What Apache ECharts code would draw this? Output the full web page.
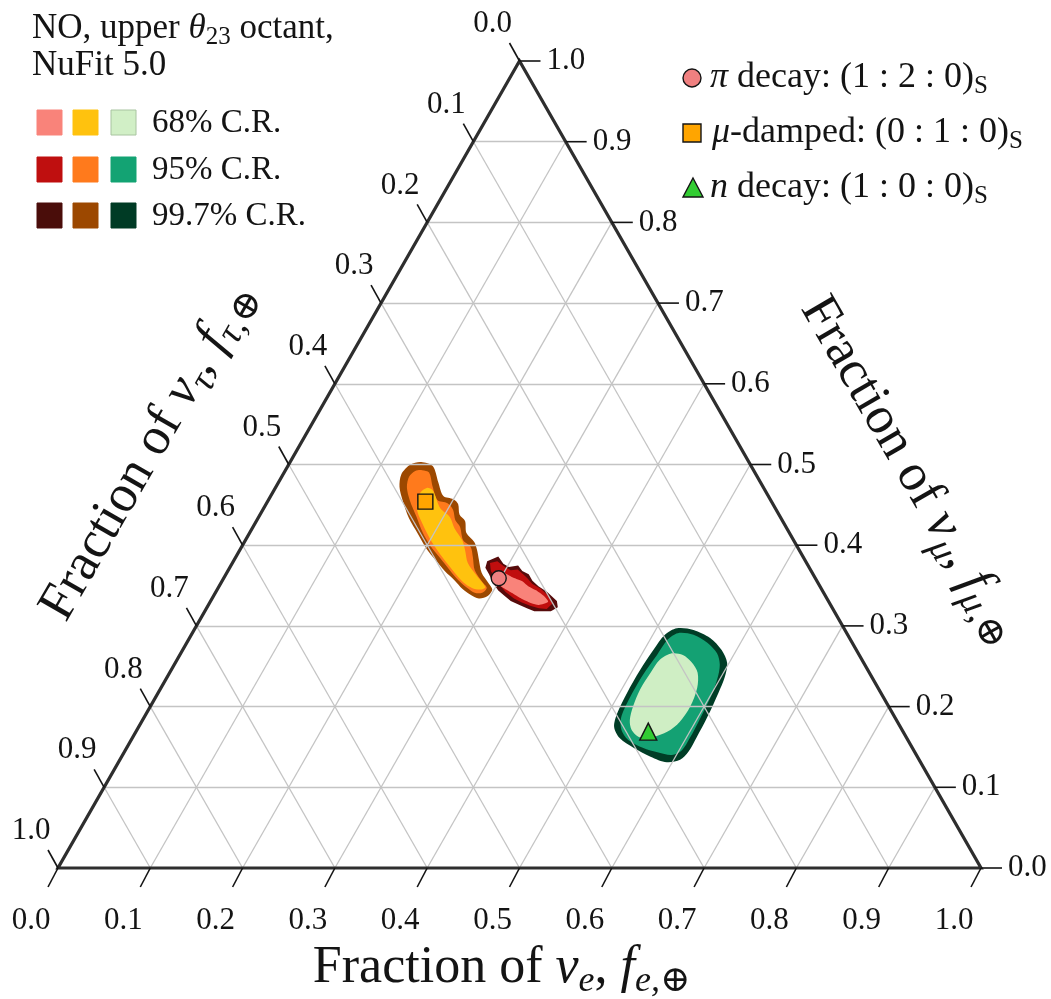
<!DOCTYPE html>
<html>
<head>
<meta charset="utf-8">
<script src="https://cdn.jsdelivr.net/npm/echarts@6/dist/echarts.min.js"></script>
<style>html,body{margin:0;padding:0;background:#fff}#chart{width:1051px;height:999px}</style>
</head>
<body>
<div id="chart"></div>
<script>
// ---------- data ----------
const tickValues = [0, 0.1, 0.2, 0.3, 0.4, 0.5, 0.6, 0.7, 0.8, 0.9, 1.0];
const tickLabels = ['0.0','0.1','0.2','0.3','0.4','0.5','0.6','0.7','0.8','0.9','1.0'];
const gridFractions = [0.1, 0.2, 0.3, 0.4, 0.5, 0.6, 0.7, 0.8, 0.9];

// credible regions of the flavor composition at Earth; each point is [f_e, f_mu] (f_tau = 1 - f_e - f_mu)
const piDecay997 = [[0.275,0.380],[0.284,0.386],[0.294,0.377],[0.302,0.373],[0.311,0.375],[0.319,0.368],[0.328,0.364],[0.336,0.356],[0.346,0.349],[0.359,0.342],[0.375,0.331],[0.380,0.323],[0.375,0.318],[0.364,0.318],[0.357,0.318],[0.347,0.322],[0.337,0.326],[0.325,0.331],[0.314,0.338],[0.305,0.344],[0.295,0.353],[0.285,0.364],[0.277,0.372]];
const piDecay95 = [[0.279,0.378],[0.286,0.380],[0.296,0.374],[0.306,0.369],[0.313,0.370],[0.322,0.364],[0.329,0.359],[0.338,0.352],[0.350,0.346],[0.363,0.337],[0.372,0.328],[0.369,0.321],[0.360,0.322],[0.349,0.325],[0.338,0.329],[0.327,0.334],[0.314,0.342],[0.304,0.350],[0.294,0.359],[0.285,0.368]];
const piDecay68 = [[0.293,0.367],[0.302,0.365],[0.313,0.360],[0.326,0.355],[0.335,0.349],[0.348,0.343],[0.358,0.337],[0.366,0.330],[0.358,0.326],[0.349,0.328],[0.337,0.333],[0.325,0.339],[0.313,0.345],[0.302,0.351],[0.294,0.358]];

const muDamped997 = [[0.142,0.503],[0.157,0.498],[0.173,0.478],[0.187,0.461],[0.200,0.457],[0.208,0.451],[0.216,0.438],[0.226,0.430],[0.235,0.415],[0.249,0.404],[0.257,0.394],[0.265,0.382],[0.276,0.366],[0.290,0.353],[0.298,0.345],[0.297,0.337],[0.289,0.334],[0.277,0.339],[0.265,0.346],[0.252,0.356],[0.235,0.368],[0.219,0.381],[0.201,0.396],[0.183,0.414],[0.163,0.434],[0.146,0.455],[0.134,0.472],[0.128,0.488],[0.132,0.500]];
const muDamped95 = [[0.148,0.493],[0.157,0.490],[0.170,0.472],[0.183,0.456],[0.196,0.452],[0.206,0.444],[0.215,0.431],[0.224,0.423],[0.236,0.406],[0.248,0.398],[0.257,0.385],[0.267,0.369],[0.283,0.354],[0.291,0.347],[0.289,0.341],[0.281,0.341],[0.270,0.347],[0.255,0.357],[0.240,0.369],[0.222,0.384],[0.203,0.400],[0.187,0.416],[0.171,0.435],[0.153,0.456],[0.142,0.472],[0.138,0.485],[0.141,0.492]];
const muDamped68 = [[0.172,0.468],[0.191,0.446],[0.207,0.435],[0.219,0.421],[0.235,0.406],[0.244,0.394],[0.255,0.378],[0.274,0.361],[0.289,0.348],[0.285,0.345],[0.275,0.347],[0.262,0.354],[0.243,0.369],[0.224,0.385],[0.203,0.404],[0.183,0.425],[0.169,0.441],[0.163,0.452],[0.160,0.465],[0.164,0.471]];

const nDecay997 = [[0.522,0.297],[0.541,0.295],[0.564,0.285],[0.584,0.270],[0.598,0.254],[0.604,0.237],[0.607,0.217],[0.610,0.187],[0.611,0.162],[0.611,0.144],[0.607,0.134],[0.594,0.131],[0.573,0.138],[0.549,0.149],[0.528,0.161],[0.515,0.175],[0.510,0.192],[0.508,0.217],[0.508,0.245],[0.510,0.270],[0.513,0.289]];
const nDecay95 = [[0.526,0.291],[0.544,0.289],[0.564,0.279],[0.581,0.266],[0.591,0.252],[0.597,0.235],[0.601,0.214],[0.603,0.186],[0.604,0.161],[0.603,0.146],[0.595,0.140],[0.579,0.143],[0.559,0.149],[0.538,0.159],[0.525,0.171],[0.517,0.186],[0.514,0.211],[0.514,0.239],[0.517,0.264],[0.519,0.283]];
const nDecay68 = [[0.532,0.266],[0.545,0.264],[0.559,0.255],[0.572,0.242],[0.581,0.223],[0.585,0.200],[0.583,0.181],[0.576,0.169],[0.563,0.162],[0.549,0.162],[0.536,0.171],[0.528,0.183],[0.523,0.200],[0.520,0.221],[0.521,0.242],[0.523,0.258]];

// best-fit flavor ratios at Earth for each source scenario, [f_e, f_mu]
const piDecayPoint = [0.298, 0.359];
const muDampedPoint = [0.171, 0.454];
const nDecayPoint = [0.555, 0.169];

// ---------- helpers ----------
const SERIF = '"Liberation Serif", "DejaVu Serif", serif';
const INK = '#141414';
// ternary (f_e, f_mu) -> cartesian axis values
const toXY = p => [p[0] + p[1] / 2, p[1]];

function regionSeries(name, pts, color, smooth, z) {
  return {
    type: 'custom', name: name, coordinateSystem: 'cartesian2d', silent: true, z: z,
    data: [[0, 0]],
    renderItem: function (params, api) {
      return { type: 'polygon', shape: { points: pts.map(p => api.coord(toXY(p))), smooth: smooth },
               style: { fill: color } };
    }
  };
}

const gridLineData = [];
gridFractions.forEach(t => {
  gridLineData.push({ coords: [toXY([t, 0]), toXY([t, 1 - t])] });       // constant f_e
  gridLineData.push({ coords: [toXY([0, t]), toXY([1 - t, t])] });       // constant f_mu
  gridLineData.push({ coords: [toXY([0, 1 - t]), toXY([1 - t, 0])] });   // constant f_tau
});

const tickFont = { fontFamily: SERIF, fontSize: 31, fill: INK };

function tickSeries(kind) {
  return {
    type: 'custom', coordinateSystem: 'cartesian2d', silent: true, z: 20,
    data: tickValues.map(v => [v]),
    renderItem: function (params, api) {
      const v = api.value(0);
      const label = tickLabels[params.dataIndex];
      let b, dx, dy, tx, ty, align;
      if (kind === 'e') { b = api.coord(toXY([v, 0])); dx = -10; dy = 19; tx = -27; ty = 53; align = 'center'; }
      else if (kind === 'mu') { b = api.coord(toXY([1 - v, v])); dx = 21; dy = 0; tx = 27; ty = 0; align = 'left'; }
      else { b = api.coord(toXY([0, 1 - v])); dx = -10; dy = -18; tx = -27; ty = -37; align = 'center'; }
      return { type: 'group', children: [
        { type: 'line', shape: { x1: b[0], y1: b[1], x2: b[0] + dx, y2: b[1] + dy }, style: { stroke: INK, lineWidth: 1.6 } },
        { type: 'text', x: b[0] + tx, y: b[1] + ty,
          style: Object.assign({ text: label, align: align, verticalAlign: 'middle' }, tickFont) }
      ]};
    }
  };
}

function titleRich(big, sub) {
  return {
    r: { fontFamily: SERIF, fontSize: big, lineHeight: 64, fill: INK },
    i: { fontFamily: SERIF, fontStyle: 'italic', fontSize: big, lineHeight: 64, fill: INK },
    s: { fontFamily: SERIF, fontStyle: 'italic', fontSize: sub, lineHeight: 34, verticalAlign: 'bottom', fill: INK },
    u: { fontFamily: SERIF, fontSize: sub, lineHeight: 34, verticalAlign: 'bottom', fill: INK }
  };
}

function titleSeries(text, anchor, off, rotation, big, sub) {
  return {
    type: 'custom', coordinateSystem: 'cartesian2d', silent: true, z: 20,
    data: [[0]],
    renderItem: function (params, api) {
      const b = api.coord(toXY(anchor));
      return { type: 'text', x: b[0] + off[0], y: b[1] + off[1], rotation: rotation,
        style: { text: text, rich: titleRich(big, sub), align: 'center', verticalAlign: 'middle' } };
    }
  };
}

function pointSeries(name, pt, symbol, color, size) {
  return {
    type: 'scatter', name: name, silent: true, z: 30,
    symbol: symbol, symbolSize: size,
    itemStyle: { color: color, borderColor: INK, borderWidth: 1.4, opacity: 1 },
    data: [toXY(pt)]
  };
}

// ---------- legends (decoration) ----------
function legRich(size) {
  return {
    r: { fontFamily: SERIF, fontSize: size, lineHeight: 42, fill: INK },
    i: { fontFamily: SERIF, fontStyle: 'italic', fontSize: size, lineHeight: 42, fill: INK },
    s: { fontFamily: SERIF, fontSize: Math.round(size * 0.7), lineHeight: 24, verticalAlign: 'bottom', fill: INK }
  };
}
const crColors = [
  ['#F9837A', '#FFC20E', '#D1EFC6', '68% C.R.'],
  ['#BF0F0F', '#FF7A1C', '#13A373', '95% C.R.'],
  ['#4A0D0A', '#9C4800', '#003B25', '99.7% C.R.']
];
const graphics = [
  { type: 'text', x: 32, y: 29, style: { text: '{r|NO, upper }{i|θ}{s|23}{r| octant,}', rich: legRich(35), verticalAlign: 'middle' } },
  { type: 'text', x: 32, y: 66, style: { text: 'NuFit 5.0', fontFamily: SERIF, fontSize: 35, fill: INK, verticalAlign: 'middle' } }
];
const rowTops = [110, 157, 203];
const colLefts = [37, 73, 111];
crColors.forEach((row, r) => {
  for (let c = 0; c < 3; c++) {
    graphics.push({ type: 'rect', x: colLefts[c], y: rowTops[r],
      shape: { width: 25, height: 25 },
      style: { fill: row[c], stroke: c === 2 && r === 0 ? '#A8C4A0' : row[c], lineWidth: 1 } });
  }
  graphics.push({ type: 'text', x: 152, y: rowTops[r] + 13,
    style: { text: row[3], fontFamily: SERIF, fontSize: 33, fill: INK, verticalAlign: 'middle' } });
});
graphics.push(
  { type: 'circle', shape: { cx: 692, cy: 78, r: 9 }, style: { fill: '#F08080', stroke: INK, lineWidth: 1.4 } },
  { type: 'rect', shape: { x: 683, y: 124, width: 18, height: 18 }, style: { fill: '#FFA500', stroke: INK, lineWidth: 1.4 } },
  { type: 'polygon', shape: { points: [[693, 178], [703, 197], [683, 197]] }, style: { fill: '#32CD32', stroke: INK, lineWidth: 1.4 } },
  { type: 'text', x: 710, y: 78, style: { text: '{i|π}{r| decay: (1 : 2 : 0)}{s|S}', rich: legRich(36), verticalAlign: 'middle' } },
  { type: 'text', x: 712, y: 133, style: { text: '{i|μ}{r|-damped: (0 : 1 : 0)}{s|S}', rich: legRich(36), verticalAlign: 'middle' } },
  { type: 'text', x: 710, y: 188, style: { text: '{i|n}{r| decay: (1 : 0 : 0)}{s|S}', rich: legRich(36), verticalAlign: 'middle' } }
);

// ---------- chart ----------
const chart = echarts.init(document.getElementById('chart'), null, { renderer: 'canvas' });
chart.setOption({
  animation: false,
  backgroundColor: '#ffffff',
  grid: { left: 58, right: 70, top: 61, bottom: 131 },
  xAxis: { type: 'value', min: 0, max: 1, show: false },
  yAxis: { type: 'value', min: 0, max: 1, show: false },
  graphic: graphics,
  series: [
    regionSeries('μ-damped 99.7% C.R.', muDamped997, '#9C4800', 0.3, 2),
    regionSeries('μ-damped 95% C.R.', muDamped95, '#FF7A1C', 0.3, 2),
    regionSeries('μ-damped 68% C.R.', muDamped68, '#FFC20E', 0.3, 2),
    regionSeries('π decay 99.7% C.R.', piDecay997, '#560B0B', 0, 2),
    regionSeries('π decay 95% C.R.', piDecay95, '#C00E0E', 0, 2),
    regionSeries('π decay 68% C.R.', piDecay68, '#F9837A', 0.2, 2),
    regionSeries('n decay 99.7% C.R.', nDecay997, '#003D26', 0.3, 2),
    regionSeries('n decay 95% C.R.', nDecay95, '#14A173', 0.3, 2),
    regionSeries('n decay 68% C.R.', nDecay68, '#CFEEC4', 0.3, 2),
    {
      type: 'lines', coordinateSystem: 'cartesian2d', silent: true, z: 5,
      lineStyle: { color: '#c4c4c4', width: 1.3, opacity: 1 },
      data: gridLineData
    },
    {
      type: 'custom', coordinateSystem: 'cartesian2d', silent: true, z: 10, data: [[0]],
      renderItem: function (params, api) {
        return { type: 'polygon',
          shape: { points: [[0, 0], [1, 0], [0, 1]].map(p => api.coord(toXY(p))) },
          style: { fill: 'none', stroke: '#2e2e2e', lineWidth: 3.2, lineJoin: 'miter' } };
      }
    },
    tickSeries('e'), tickSeries('mu'), tickSeries('tau'),
    titleSeries('{r|Fraction of }{i|ν}{s|e}{r|, }{i|f}{s|e,}{u|⊕}', [0.5, 0], [-18, 100], 0, 52, 36),
    titleSeries('{r|Fraction of }{i|ν}{s|τ}{r|, }{i|f}{s|τ,}{u|⊕}', [0, 0.5], [-140, -13], Math.PI / 3, 53, 38),
    titleSeries('{r|Fraction of }{i|ν}{s|μ}{r|, }{i|f}{s|μ,}{u|⊕}', [0.5, 0.5], [160, 6], -Math.PI / 3, 53, 38),
    pointSeries('π decay: (1:2:0)_S', piDecayPoint, 'circle', '#F08080', 15),
    pointSeries('μ-damped: (0:1:0)_S', muDampedPoint, 'rect', '#FFA500', 15),
    pointSeries('n decay: (1:0:0)_S', nDecayPoint, 'triangle', '#32CD32', 17)
  ]
});
</script>
</body>
</html>
